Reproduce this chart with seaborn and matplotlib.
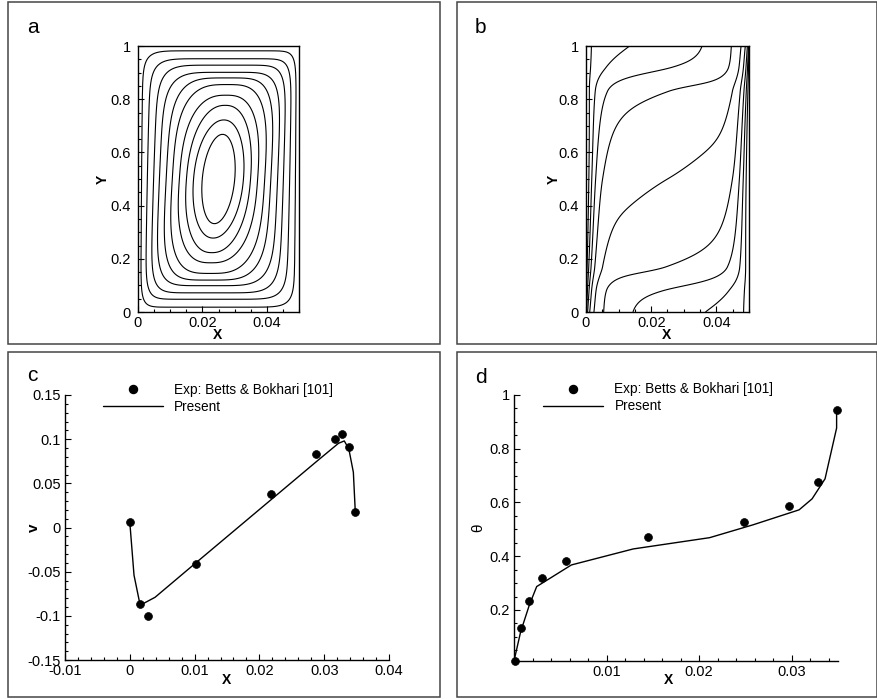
import numpy as np
import matplotlib
matplotlib.use("Agg")
import matplotlib.pyplot as plt
import seaborn as sns
from matplotlib.ticker import MultipleLocator, FixedLocator, FuncFormatter
from matplotlib.lines import Line2D
from matplotlib.patches import Rectangle

# ---------------- data ----------------
# (a) streamlines: half width at mid height (X units) and half height at mid width (Y units), outer -> inner
stream_half_width = [0.0239, 0.0221, 0.02015, 0.01835, 0.01625, 0.01435, 0.01215, 0.00995, 0.00775, 0.00505]
stream_half_height = [0.482, 0.452, 0.428, 0.401, 0.380, 0.355, 0.315, 0.277, 0.222, 0.168]
cavity_width = 0.05

# (b) isotherm levels
theta_levels = [0.1, 0.2, 0.3, 0.4, 0.5, 0.6, 0.7, 0.8, 0.9]

# (c) vertical velocity at mid height
exp_v_x = [0.0, 0.00157, 0.00286, 0.0102, 0.02184, 0.0287, 0.0316, 0.0328, 0.0338, 0.0348]
exp_v = [0.006, -0.087, -0.0998, -0.041, 0.0379, 0.0832, 0.1005, 0.1055, 0.0911, 0.0175]
present_v_x = [0.0, 0.00065, 0.0016, 0.0039, 0.0102, 0.0201, 0.0287, 0.0322, 0.0331, 0.0338, 0.0345, 0.0348]
present_v = [0.006, -0.054, -0.088, -0.079, -0.040, 0.021, 0.074, 0.0953, 0.098, 0.089, 0.0625, 0.0175]

# (d) temperature at mid height
exp_t_x = [0.0001, 0.00072, 0.00166, 0.0030, 0.0056, 0.01445, 0.02486, 0.02976, 0.03284, 0.03485]
exp_t = [0.01, 0.132, 0.2335, 0.318, 0.3825, 0.4707, 0.529, 0.587, 0.6767, 0.946]
present_t_x = [0.0, 0.00072, 0.00166, 0.00245, 0.0062, 0.01287, 0.02113, 0.0258, 0.0308, 0.0322, 0.0336, 0.03485, 0.03485]
present_t = [0.01, 0.119, 0.2186, 0.287, 0.3675, 0.427, 0.469, 0.5166, 0.5726, 0.6135, 0.688, 0.877, 0.946]

legend_labels = ["Exp: Betts & Bokhari [101]", "Present"]

# ---------------- style ----------------
sns.set_style("white", {"axes.edgecolor": "black", "text.color": "black",
                        "xtick.color": "black", "ytick.color": "black",
                        "axes.labelcolor": "black"})
plt.rcParams["font.family"] = ["Liberation Sans", "DejaVu Sans"]
plt.rcParams["axes.unicode_minus"] = False

W, H = 878, 699
fig = plt.figure(figsize=(W / 100, H / 100), dpi=100)


def ax_at(x0, y0, x1, y1):
    return fig.add_axes([x0 / W, 1 - y1 / H, (x1 - x0) / W, (y1 - y0) / H])


def pchip(xk, yk, x):
    xk = np.asarray(xk, float)
    yk = np.asarray(yk, float)
    h = np.diff(xk)
    d = np.diff(yk) / h
    m = np.zeros_like(yk)
    m[0], m[-1] = d[0], d[-1]
    for i in range(1, len(xk) - 1):
        if d[i - 1] * d[i] <= 0:
            m[i] = 0
        else:
            w1 = 2 * h[i] + h[i - 1]
            w2 = h[i] + 2 * h[i - 1]
            m[i] = (w1 + w2) / (w1 / d[i - 1] + w2 / d[i])
    x = np.clip(x, xk[0], xk[-1])
    idx = np.clip(np.searchsorted(xk, x) - 1, 0, len(h) - 1)
    t = (x - xk[idx]) / h[idx]
    h00 = 2 * t**3 - 3 * t**2 + 1
    h10 = t**3 - 2 * t**2 + t
    h01 = -2 * t**3 + 3 * t**2
    h11 = t**3 - t**2
    return h00 * yk[idx] + h10 * h[idx] * m[idx] + h01 * yk[idx + 1] + h11 * h[idx] * m[idx + 1]


fmt = FuncFormatter(lambda v, p: ("%g" % round(v, 6)) if abs(v) > 1e-12 else "0")

LAB = 10.5


def style_axes(ax, xmaj, xmin, ymaj, ymin, box, ypad):
    ax.xaxis.set_major_locator(xmaj)
    ax.xaxis.set_minor_locator(xmin)
    ax.yaxis.set_major_locator(ymaj)
    ax.yaxis.set_minor_locator(ymin)
    ax.xaxis.set_major_formatter(fmt)
    ax.yaxis.set_major_formatter(fmt)
    ax.tick_params(which="both", direction="in", top=False, right=False,
                   bottom=True, left=True, width=0.8, colors="black")
    ax.tick_params(which="major", length=4.5, labelsize=LAB)
    ax.tick_params(axis="x", which="major", pad=3)
    ax.tick_params(axis="y", which="major", pad=ypad)
    ax.tick_params(which="minor", length=2.5)
    for s in ["top", "right"]:
        ax.spines[s].set_visible(box)
    for s in ax.spines.values():
        s.set_linewidth(1.0)
        s.set_color("black")
    ax.set_facecolor("white")


# ---------------- (a) streamlines ----------------
axa = ax_at(138, 46, 299, 312)
gx = np.linspace(0, cavity_width, 481)
gy = np.linspace(0, 1, 801)
X, Y = np.meshgrid(gx, gy)
n = len(stream_half_width)
s_knots = np.arange(0, n + 2) / (n + 1)
w_knots = np.r_[0.0, np.array(stream_half_width)[::-1] / (cavity_width / 2), 1.0]
h_knots = np.r_[0.0, np.array(stream_half_height)[::-1] / 0.5, 1.0]
u = (X - cavity_width / 2) / (cavity_width / 2)
v = (Y - 0.5) / 0.5
tilt = 0.15
au = np.abs(u - tilt * v * (1 - u**2))
av = np.abs(v)
lo = np.zeros_like(u)
hi = np.ones_like(u)
with np.errstate(over="ignore", divide="ignore", invalid="ignore"):
    for _ in range(36):
        mid = 0.5 * (lo + hi)
        w = np.maximum(np.interp(mid, s_knots, w_knots), 1e-9)
        h = np.maximum(np.interp(mid, s_knots, h_knots), 1e-9)
        ne = 2 + 14 * mid**3
        F = (au / w) ** ne + (av / h) ** ne
        inside = F <= 1
        hi = np.where(inside, mid, hi)
        lo = np.where(inside, lo, mid)
s_field = 0.5 * (lo + hi)
axa.contour(X, Y, s_field, levels=s_knots[1:-1], colors="black", linewidths=0.8)
axa.set_xlim(0, cavity_width)
axa.set_ylim(0, 1)
style_axes(axa, MultipleLocator(0.02), MultipleLocator(0.005), MultipleLocator(0.2),
           MultipleLocator(0.05), True, 5)

# ---------------- (b) isotherms ----------------
axb = ax_at(586, 46, 749, 312)
xi = X / cavity_width
eta = Y
mu = 0.11
S = pchip([0, 0.08, 0.17, 0.5, 0.83, 0.92, 1.0], [-0.25, -0.2, -0.1, 0, 0.1, 0.2, 0.25], eta)
dL = 0.033 + 0.045 * eta
dR = 0.033 + 0.045 * (1 - eta)
pp = 0.5 + 0.7 * (1 - (2 * eta - 1) ** 2)
Tc = 0.5 + mu * (0.5 - xi) + S
EL = np.exp(-(np.maximum(xi, 0) / dL) ** pp)
ER = np.exp(-(np.maximum(1 - xi, 0) / dR) ** pp)
theta = Tc + (1 - (0.5 + 0.5 * mu + S)) * EL - (0.5 - 0.5 * mu + S) * ER
axb.contour(X, Y, theta, levels=theta_levels, colors="black", linewidths=0.8)
axb.set_xlim(0, cavity_width)
axb.set_ylim(0, 1)
style_axes(axb, MultipleLocator(0.02), MultipleLocator(0.005), MultipleLocator(0.2),
           MultipleLocator(0.05), True, 5)

for ax, yl_x in [(axa, -0.175), (axb, -0.152)]:
    ax.set_xlabel("X", fontsize=10, fontweight="bold")
    ax.set_ylabel("Y", fontsize=10, fontweight="bold")
    ax.xaxis.set_label_coords(0.495, -0.06)
    ax.yaxis.set_label_coords(yl_x, 0.5)

# ---------------- (c) velocity ----------------
axc = ax_at(65, 395, 389, 660)
sns.lineplot(x=present_v_x, y=present_v, ax=axc, color="black", lw=1.0,
             sort=False, estimator=None)
sns.scatterplot(x=exp_v_x, y=exp_v, ax=axc, color="black", s=32, edgecolor="black",
                linewidth=0.5, zorder=3)
axc.set_xlim(-0.01, 0.04)
axc.set_ylim(-0.15, 0.15)
style_axes(axc, MultipleLocator(0.01), MultipleLocator(0.002), MultipleLocator(0.05),
           MultipleLocator(0.01), False, 3)
axc.set_xlabel("X", fontsize=10, fontweight="bold")
axc.set_ylabel("v", fontsize=11, fontweight="bold")
axc.xaxis.set_label_coords(0.497, -0.05)
axc.yaxis.set_label_coords(-0.075, 0.5)

# ---------------- (d) temperature ----------------
axd = ax_at(514, 395, 838, 661)
sns.lineplot(x=present_t_x, y=present_t, ax=axd, color="black", lw=1.0,
             sort=False, estimator=None)
sns.scatterplot(x=exp_t_x, y=exp_t, ax=axd, color="black", s=32, edgecolor="black",
                linewidth=0.5, zorder=3, clip_on=False)
axd.set_xlim(0, 0.035)
axd.set_ylim(0.01, 1)
style_axes(axd, FixedLocator([0.01, 0.02, 0.03]), MultipleLocator(0.002),
           FixedLocator([0.2, 0.4, 0.6, 0.8, 1.0]), MultipleLocator(0.05), False, 3)
axd.set_xlabel("X", fontsize=10, fontweight="bold")
axd.set_ylabel("\u03b8", fontsize=11)
axd.xaxis.set_label_coords(0.477, -0.046)
axd.yaxis.set_label_coords(-0.09, 0.5)

handles = [Line2D([], [], marker="o", ls="none", color="black", markersize=5.8),
           Line2D([], [], color="black", lw=1.0)]
for ax, bx in [(axc, 0.117), (axd, 0.0895)]:
    ax.legend(handles, legend_labels, loc="upper left", bbox_to_anchor=(bx, 1.047),
              frameon=False, fontsize=9.8, handlelength=4.4, handletextpad=0.85,
              labelspacing=0.22, borderpad=0, borderaxespad=0)

# ---------------- panel frames & letters ----------------
for (x0, y0, x1, y1) in [(8, 2, 440, 344), (457, 2, 877, 344), (8, 352, 440, 697), (457, 352, 877, 697)]:
    fig.add_artist(Rectangle((x0 / W, 1 - y1 / H), (x1 - x0) / W, (y1 - y0) / H,
                             transform=fig.transFigure, fill=False, ec="#454545", lw=1.1))
for (px, py, t) in [(27, 33, "a"), (475, 33, "b"), (27, 381, "c"), (475, 383, "d")]:
    fig.text(px / W, 1 - py / H, t, fontsize=15, ha="left", va="baseline")

fig.savefig("out.png", dpi=100)
